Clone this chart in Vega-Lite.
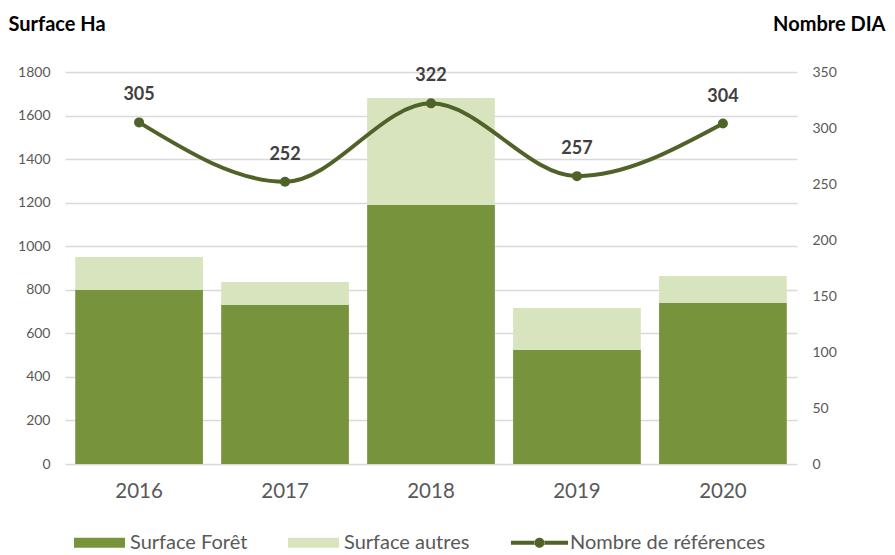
{
  "$schema": "https://vega.github.io/schema/vega-lite/v6.json",
  "width": 732,
  "height": 392,
  "autosize": {"type": "none"},
  "padding": {"left": 65, "top": 72, "right": 98, "bottom": 91},
  "background": "white",
  "config": {"view": {"stroke": null}, "font": "Lato"},
  "datasets": {
    "bars": [
      {"year": "2016", "type": "Surface Forêt", "value": 800},
      {"year": "2016", "type": "Surface autres", "value": 150},
      {"year": "2017", "type": "Surface Forêt", "value": 730},
      {"year": "2017", "type": "Surface autres", "value": 106},
      {"year": "2018", "type": "Surface Forêt", "value": 1189},
      {"year": "2018", "type": "Surface autres", "value": 492},
      {"year": "2019", "type": "Surface Forêt", "value": 523},
      {"year": "2019", "type": "Surface autres", "value": 193},
      {"year": "2020", "type": "Surface Forêt", "value": 739},
      {"year": "2020", "type": "Surface autres", "value": 124}
    ],
    "refs": [
      {"year": "2016", "refs": 305},
      {"year": "2017", "refs": 252},
      {"year": "2018", "refs": 322},
      {"year": "2019", "refs": 257},
      {"year": "2020", "refs": 304}
    ]
  },
  "layer": [
    {
      "data": {"name": "bars"},
      "mark": {"type": "bar"},
      "encoding": {
        "x": {
          "field": "year",
          "type": "ordinal",
          "scale": {"paddingInner": 0.125, "paddingOuter": 0.07},
          "axis": {
            "title": null,
            "labelAngle": 0,
            "labelFontSize": 20.5,
            "labelColor": "#595959",
            "labelPadding": 17,
            "ticks": false,
            "domain": false,
            "grid": false
          }
        },
        "y": {
          "field": "value",
          "type": "quantitative",
          "stack": "zero",
          "scale": {"domain": [0, 1800], "nice": false},
          "axis": {
            "orient": "left",
            "values": [0, 200, 400, 600, 800, 1000, 1200, 1400, 1600, 1800],
            "format": "d",
            "title": "Surface Ha",
            "titleAngle": 0,
            "titleAlign": "left",
            "titleBaseline": "alphabetic",
            "titleX": -57,
            "titleY": -42,
            "titleFontSize": 20,
            "titleFontWeight": "bold",
            "titleColor": "#000000",
            "labelFontSize": 14,
            "labelColor": "#595959",
            "labelPadding": 15,
            "ticks": false,
            "domain": false,
            "grid": true,
            "gridColor": "#d9d9d9",
            "gridWidth": 1.5
          }
        },
        "color": {
          "field": "type",
          "type": "nominal",
          "scale": {
            "domain": ["Surface Forêt", "Surface autres", "Nombre de références"],
            "range": ["#77933c", "#d7e4bd", "#4f6228"]
          },
          "legend": {
            "title": null,
            "orient": "none",
            "legendX": 9,
            "legendY": 445,
            "direction": "horizontal",
            "symbolSize": 2601,
            "symbolStrokeWidth": 0,
            "labelFontSize": 20,
            "labelColor": "#595959",
            "labelOffset": 5,
            "labelLimit": 400,
            "columnPadding": 40,
            "encode": {
              "symbols": {
                "update": {
                  "shape": {"signal": "datum.value === 'Nombre de références' ? 'M-1.12,-0.078H-0.18V0.078H-1.12Z M0.18,-0.078H1.12V0.078H0.18Z M-0.196,0A0.196,0.196,0,1,0,0.196,0A0.196,0.196,0,1,0,-0.196,0Z' : 'M-1,-0.196H1V0.196H-1Z'"},
                  "fill": {"scale": "color", "field": "value"},
                  "fillOpacity": {"value": 1},
                  "opacity": {"value": 1},
                  "strokeWidth": {"value": 0}
                }
              }
            }
          }
        },
        "order": {"field": "type", "sort": "ascending"}
      }
    },
    {
      "data": {"name": "refs"},
      "encoding": {
        "x": {"field": "year", "type": "ordinal"},
        "y": {
          "field": "refs",
          "type": "quantitative",
          "scale": {"domain": [0, 350], "nice": false},
          "axis": {
            "orient": "right",
            "values": [0, 50, 100, 150, 200, 250, 300, 350],
            "title": "Nombre DIA",
            "titleAngle": 0,
            "titleAlign": "right",
            "titleBaseline": "alphabetic",
            "titleX": 88,
            "titleY": -42,
            "titleFontSize": 20,
            "titleFontWeight": "bold",
            "titleColor": "#000000",
            "labelFontSize": 14,
            "labelColor": "#595959",
            "labelPadding": 15,
            "ticks": false,
            "domain": false,
            "grid": false
          }
        }
      },
      "layer": [
        {
          "mark": {"type": "line", "interpolate": "monotone", "strokeWidth": 4},
          "encoding": {"color": {"datum": "Nombre de références"}}
        },
        {
          "mark": {"type": "point", "filled": true, "size": 100, "opacity": 1},
          "encoding": {"color": {"datum": "Nombre de références"}}
        },
        {
          "mark": {"type": "text", "dy": -27, "fontSize": 18, "fontWeight": "bold", "color": "#404040", "baseline": "middle"},
          "encoding": {"text": {"field": "refs", "type": "quantitative"}}
        }
      ]
    }
  ],
  "resolve": {"scale": {"y": "independent"}}
}
